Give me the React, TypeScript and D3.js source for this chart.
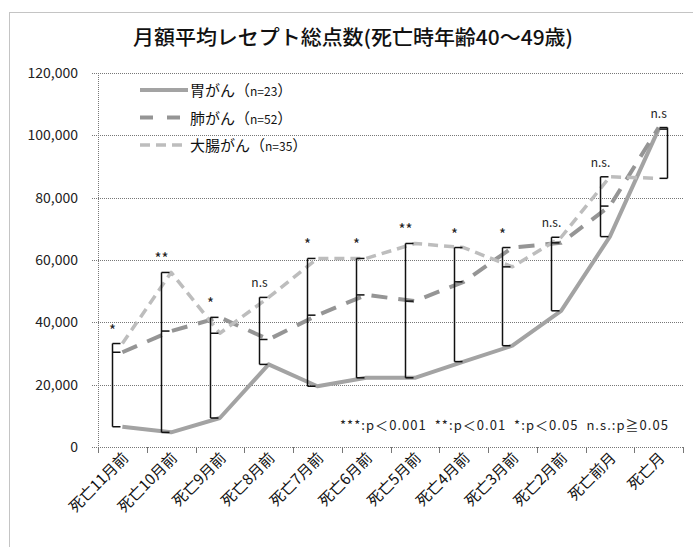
import React from "react";
import * as d3 from "d3";

// Months before death (x categories)
const categories = [
  "死亡11月前", "死亡10月前", "死亡9月前", "死亡8月前", "死亡7月前", "死亡6月前",
  "死亡5月前", "死亡4月前", "死亡3月前", "死亡2月前", "死亡前月", "死亡月",
];

// Monthly mean total receipt points per cancer type
const stomach = [6500, 4700, 9300, 26500, 19500, 22200, 22200, 27400, 32500, 43700, 67500, 102000];
const lung = [30400, 37200, 41600, 34500, 42300, 48800, 46800, 53000, 64000, 65500, 77300, 102500];
const colorectal = [33200, 56000, 36500, 48000, 60500, 60500, 65300, 64000, 57800, 67300, 86700, 86200];

// Significance marks per month
const significance = ["*", "**", "*", "n.s", "*", "*", "**", "*", "*", "n.s.", "n.s.", "n.s"];

const yTicks = [0, 20000, 40000, 60000, 80000, 100000, 120000];

const seriesNames = ["胃がん", "肺がん", "大腸がん"];
const seriesN = ["n=23", "n=52", "n=35"];

const FONT = "'Noto Sans CJK JP', 'Noto Sans', sans-serif";

const W = 693;
const H = 547;

const styles = [
  { stroke: "#a3a3a3", width: 4, dash: "none" },
  { stroke: "#959595", width: 4, dash: "16,11" },
  { stroke: "#bdbdbd", width: 3.5, dash: "10,6" },
];

export default function App() {
  const x = d3.scaleBand<string>().domain(categories).range([98, 683]).padding(0);
  const y = d3.scaleLinear().domain([0, 120000]).range([447, 73]);
  const cx = (i: number) => (x(categories[i]) as number) + x.bandwidth() / 2;

  const line = d3
    .line<number>()
    .x((_, i) => cx(i))
    .y((v) => y(v));

  const allSeries = [stomach, lung, colorectal];
  const fmt = d3.format(",");

  const boundaries = d3.range(categories.length + 1).map((i) => 98 + i * x.bandwidth());

  return (
    <svg
      width={W}
      height={H}
      style={{ position: "absolute", left: 0, top: 0, background: "#fff" }}
      fontFamily={FONT}
    >
      {/* chart frame */}
      <rect x={9.5} y={12.5} width={700} height={560} fill="none" stroke="#888" strokeWidth={1} strokeDasharray="1,1" />

      {/* title */}
      <text x={353} y={45} textAnchor="middle" fontSize={20} fontWeight={500} fill="#111" textLength={440} lengthAdjust="spacingAndGlyphs">
        月額平均レセプト総点数(死亡時年齢40～49歳)
      </text>

      {/* gridlines and y ticks */}
      {yTicks.map((t) => (
        <g key={t}>
          <line x1={98} x2={683} y1={Math.round(y(t)) + 0.5} y2={Math.round(y(t)) + 0.5} stroke="#777" strokeDasharray="1,1" />
          <line x1={92} x2={98} y1={Math.round(y(t)) + 0.5} y2={Math.round(y(t)) + 0.5} stroke="#777" strokeDasharray="1,1" />
          <text x={78} y={y(t) + 5} textAnchor="end" fontSize={14} fill="#222">
            {fmt(t)}
          </text>
        </g>
      ))}
      {/* y axis */}
      <line x1={98.5} x2={98.5} y1={y(120000)} y2={y(0)} stroke="#777" strokeDasharray="1,1" />
      {/* x ticks */}
      {boundaries.map((bx, i) => (
        <line key={i} x1={Math.round(bx) + 0.5} x2={Math.round(bx) + 0.5} y1={447} y2={453} stroke="#777" />
      ))}
      {/* x labels */}
      {categories.map((c, i) => (
        <text
          key={c}
          transform={`translate(${cx(i) + 7},${459}) rotate(-45)`}
          textAnchor="end"
          fontSize={15}
          fill="#111"
        >
          {c}
        </text>
      ))}

      {/* series lines */}
      {allSeries.map((s, k) => (
        <path
          key={k}
          d={line(s) as string}
          fill="none"
          stroke={styles[k].stroke}
          strokeWidth={styles[k].width}
          strokeDasharray={styles[k].dash}
          strokeLinejoin="round"
        />
      ))}

      {/* significance brackets */}
      {categories.map((c, i) => {
        const vals = allSeries.map((s) => s[i]).sort((a, b) => a - b);
        const last = i === categories.length - 1;
        const side = last ? 1 : -1;
        const bx = Math.round(cx(i) + (last ? 8 : -10)) + 0.5;
        const tick = -side * 8;
        const yTop = y(vals[2]);
        const yMid = y(vals[1]);
        const yBot = y(vals[0]);
        const labelX = last ? cx(i) : bx;
        const isStar = significance[i].startsWith("*");
        return (
          <g key={c} stroke="#111" strokeWidth={1.5} fill="none">
            <line x1={bx} x2={bx} y1={yTop} y2={yBot} />
            <line x1={bx} x2={bx + tick} y1={yTop} y2={yTop} />
            <line x1={bx} x2={bx + tick} y1={yMid} y2={yMid} />
            <line x1={bx} x2={bx + tick} y1={yBot} y2={yBot} />
            <text
              x={labelX}
              y={yTop - (isStar ? 8 : 10)}
              textAnchor="middle"
              fontSize={isStar ? 15 : 12}
              fill="#222"
              stroke="none"
            >
              {significance[i]}
            </text>
          </g>
        );
      })}

      {/* legend */}
      {seriesNames.map((name, k) => {
        const ly = 90 + k * 27.5;
        return (
          <g key={name}>
            <line
              x1={140}
              x2={188}
              y1={ly}
              y2={ly}
              stroke={styles[k].stroke}
              strokeWidth={styles[k].width}
              strokeDasharray={k === 1 ? "13,14" : styles[k].dash}
            />
            <text x={190} y={ly + 6} fontSize={15} fill="#111">
              {name}
              <tspan>（</tspan>
              <tspan fontSize={12}>{seriesN[k]}</tspan>
              <tspan>）</tspan>
            </text>
          </g>
        );
      })}

      {/* significance key */}
      <text x={340} y={430} fontSize={13} fill="#222" xmlSpace="preserve" textLength={328} lengthAdjust="spacing">
        ***:p＜0.001  **:p＜0.01  *:p＜0.05  n.s.:p≧0.05
      </text>
    </svg>
  );
}
